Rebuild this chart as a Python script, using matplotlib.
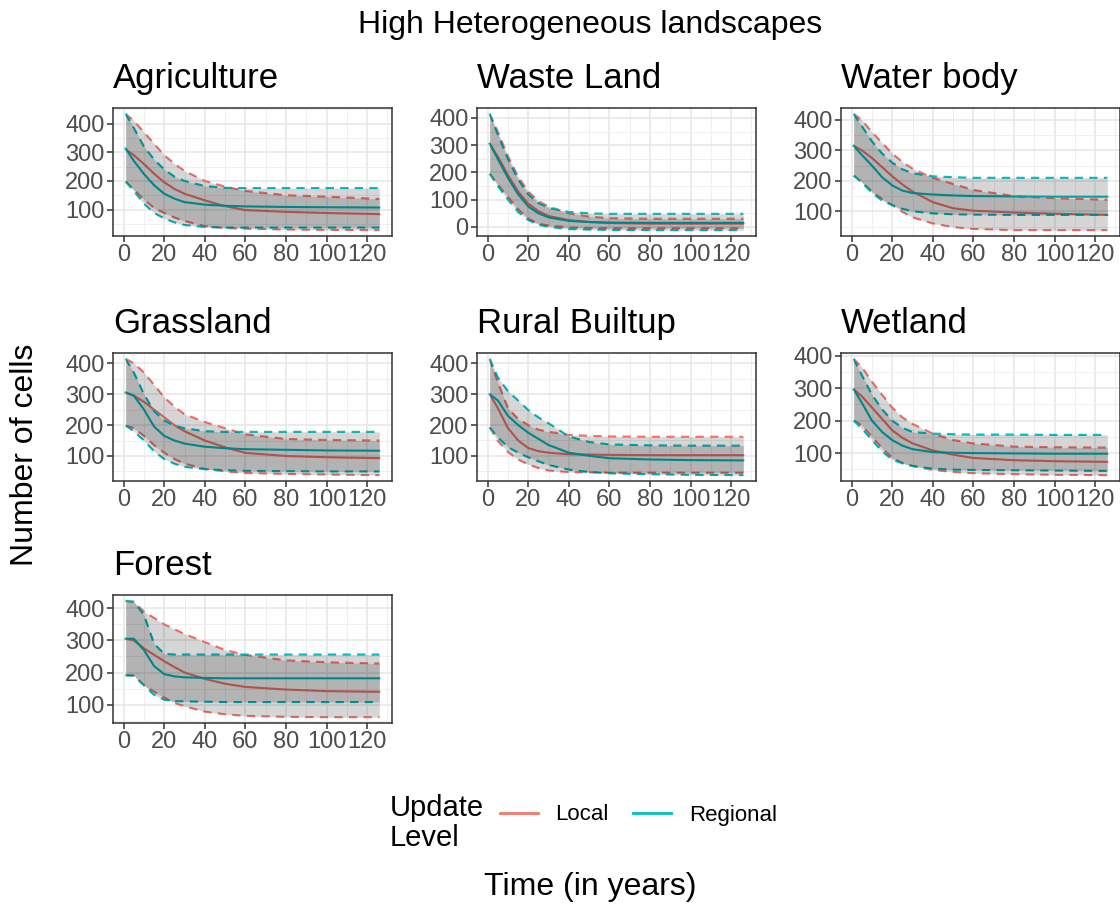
import matplotlib
matplotlib.use('Agg')
import matplotlib.pyplot as plt
from matplotlib.lines import Line2D
from matplotlib.ticker import MultipleLocator

plt.rcParams['font.family'] = ['Liberation Sans', 'DejaVu Sans']

T = [1, 5, 10, 15, 20, 25, 30, 40, 50, 60, 80, 100, 126]

panels = ['Agriculture', 'Waste Land', 'Water body',
          'Grassland', 'Rural Builtup', 'Wetland', 'Forest']

# Agriculture
agri_local_mean = [310, 290, 259, 225, 195, 172, 155, 132, 112, 98, 92, 88, 84]
agri_local_up = [434, 410, 370, 330, 290, 260, 235, 200, 180, 165, 150, 145, 137]
agri_local_lo = [197, 170, 135, 105, 88, 72, 60, 42, 35, 33, 30, 29, 28]
agri_reg_mean = [313, 270, 224, 185, 155, 138, 126, 117, 113, 111, 109, 108, 107]
agri_reg_up = [434, 385, 320, 275, 240, 215, 200, 182, 176, 175, 175, 175, 175]
agri_reg_lo = [197, 165, 120, 88, 69, 55, 46, 39, 37, 37, 37, 37, 37]

# Waste Land
waste_local_mean = [305, 258, 190, 130, 85, 58, 40, 25, 18, 14, 12, 12, 12]
waste_local_up = [415, 350, 260, 185, 130, 95, 75, 50, 38, 32, 30, 30, 30]
waste_local_lo = [195, 155, 110, 65, 30, 12, 5, -2, -4, -5, -5, -5, -5]
waste_reg_mean = [305, 250, 180, 120, 75, 50, 35, 22, 18, 16, 15, 15, 15]
waste_reg_up = [415, 340, 250, 175, 120, 88, 70, 55, 50, 48, 48, 48, 48]
waste_reg_lo = [195, 150, 100, 55, 25, 8, 0, -8, -10, -11, -12, -12, -12]

# Water body
water_local_mean = [315, 300, 275, 245, 215, 188, 165, 130, 110, 102, 96, 92, 88]
water_local_up = [420, 400, 360, 325, 290, 262, 240, 210, 190, 170, 150, 143, 138]
water_local_lo = [217, 195, 165, 140, 120, 98, 80, 60, 48, 42, 38, 38, 38]
water_reg_mean = [315, 285, 250, 212, 185, 168, 160, 155, 152, 150, 149, 148, 148]
water_reg_up = [420, 380, 330, 290, 260, 238, 225, 215, 212, 210, 210, 210, 210]
water_reg_lo = [217, 195, 160, 135, 120, 108, 100, 93, 90, 89, 88, 88, 88]

# Grassland
grass_local_mean = [305, 295, 275, 250, 225, 200, 180, 150, 128, 110, 100, 96, 93]
grass_local_up = [414, 400, 370, 330, 290, 260, 235, 210, 190, 170, 155, 152, 150]
grass_local_lo = [198, 190, 165, 135, 110, 90, 75, 58, 50, 45, 42, 40, 38]
grass_reg_mean = [305, 295, 250, 195, 165, 150, 140, 130, 125, 122, 120, 118, 117]
grass_reg_up = [414, 370, 300, 245, 215, 198, 190, 180, 178, 178, 178, 178, 178]
grass_reg_lo = [198, 180, 150, 115, 90, 75, 65, 57, 54, 52, 51, 50, 50]

# Rural Builtup
rural_local_mean = [300, 255, 190, 150, 125, 115, 110, 105, 104, 103, 102, 102, 102]
rural_local_up = [415, 340, 255, 220, 200, 185, 178, 168, 165, 163, 162, 162, 162]
rural_local_lo = [192, 148, 112, 88, 72, 60, 52, 47, 46, 45, 45, 45, 45]
rural_reg_mean = [300, 280, 230, 200, 175, 155, 135, 110, 100, 92, 88, 86, 85]
rural_reg_up = [415, 355, 310, 280, 249, 225, 206, 163, 145, 137, 134, 133, 133]
rural_reg_lo = [192, 160, 128, 110, 95, 82, 70, 55, 47, 43, 40, 38, 37]

# Wetland
wet_local_mean = [296, 275, 240, 205, 170, 147, 130, 108, 95, 85, 78, 75, 73]
wet_local_up = [390, 365, 320, 280, 240, 210, 190, 160, 140, 130, 120, 118, 117]
wet_local_lo = [200, 185, 150, 115, 85, 70, 60, 48, 42, 38, 35, 33, 32]
wet_reg_mean = [296, 255, 200, 165, 140, 123, 112, 103, 101, 100, 99, 98, 98]
wet_reg_up = [390, 340, 280, 235, 200, 178, 165, 160, 158, 157, 157, 156, 156]
wet_reg_lo = [200, 175, 140, 105, 80, 68, 60, 52, 49, 48, 47, 46, 45]

# Forest
forest_local_mean = [305, 300, 275, 255, 235, 217, 200, 180, 165, 155, 147, 142, 140]
forest_local_up = [423, 420, 390, 370, 350, 335, 320, 295, 270, 255, 238, 232, 228]
forest_local_lo = [191, 190, 160, 140, 122, 105, 95, 78, 70, 65, 62, 61, 61]
forest_reg_mean = [305, 305, 270, 220, 195, 188, 185, 183, 182, 182, 182, 182, 182]
forest_reg_up = [423, 420, 380, 290, 258, 256, 256, 256, 256, 256, 256, 256, 256]
forest_reg_lo = [191, 190, 160, 130, 115, 111, 110, 109, 108, 108, 108, 108, 108]

series = {
    'Agriculture': ((agri_local_mean, agri_local_lo, agri_local_up),
                    (agri_reg_mean, agri_reg_lo, agri_reg_up)),
    'Waste Land': ((waste_local_mean, waste_local_lo, waste_local_up),
                   (waste_reg_mean, waste_reg_lo, waste_reg_up)),
    'Water body': ((water_local_mean, water_local_lo, water_local_up),
                   (water_reg_mean, water_reg_lo, water_reg_up)),
    'Grassland': ((grass_local_mean, grass_local_lo, grass_local_up),
                  (grass_reg_mean, grass_reg_lo, grass_reg_up)),
    'Rural Builtup': ((rural_local_mean, rural_local_lo, rural_local_up),
                      (rural_reg_mean, rural_reg_lo, rural_reg_up)),
    'Wetland': ((wet_local_mean, wet_local_lo, wet_local_up),
                (wet_reg_mean, wet_reg_lo, wet_reg_up)),
    'Forest': ((forest_local_mean, forest_local_lo, forest_local_up),
               (forest_reg_mean, forest_reg_lo, forest_reg_up)),
}

levels = ['Local', 'Regional']
colors = ['#F8766D', '#00BFC4']

W, H = 1120, 907
fig = plt.figure(figsize=(W / 100, H / 100), dpi=100)

col_left = [113, 477, 841]
row_top = [108, 353, 595]
pw, ph = 279, 128

for i, name in enumerate(panels):
    r, c = divmod(i, 3)
    x0, y0 = col_left[c], row_top[r]
    ax = fig.add_axes([x0 / W, 1 - (y0 + ph) / H, pw / W, ph / H])
    ax.set_axisbelow(True)

    # lines under the ribbons; ribbons are translucent black so they darken
    for (mean, lo, up), col in zip(series[name], colors):
        ax.plot(T, mean, color=col, lw=1.5, zorder=2)
        ax.plot(T, up, color=col, lw=1.5, ls=(0, (4, 3)), zorder=2)
        ax.plot(T, lo, color=col, lw=1.5, ls=(0, (4, 3)), zorder=2)
    for (mean, lo, up), col in zip(series[name], colors):
        ax.fill_between(T, lo, up, color='black', alpha=0.16, lw=0, zorder=3)

    ax.margins(x=0.05, y=0.05)
    ax.xaxis.set_major_locator(MultipleLocator(20))
    ax.xaxis.set_minor_locator(MultipleLocator(10))
    ax.yaxis.set_major_locator(MultipleLocator(100))
    ax.yaxis.set_minor_locator(MultipleLocator(50))
    ax.grid(which='major', color='#e6e6e6', lw=1.1)
    ax.grid(which='minor', color='#efefef', lw=0.7)
    ax.tick_params(which='minor', length=0)
    ax.tick_params(which='major', length=4, width=1.1, color='#333333',
                   labelsize=17, labelcolor='#4d4d4d', pad=2)
    for sp in ax.spines.values():
        sp.set_color('#333333')
        sp.set_linewidth(1.1)
    fig.text(x0 / W, 1 - (y0 - 20) / H, name, fontsize=25, ha='left',
             va='baseline')

fig.text(590 / W, 1 - 33 / H, 'High Heterogeneous landscapes', fontsize=23,
         ha='center', va='baseline')
fig.text(25 / W, 1 - 455 / H, 'Number of cells', fontsize=23, rotation=90,
         ha='center', va='center')
fig.text(590 / W, 1 - 887 / H, 'Time (in years)', fontsize=23,
         ha='center', va='center')

# legend
fig.text(390 / W, 1 - 823 / H, 'Update\nLevel', fontsize=21, ha='left',
         va='center', linespacing=1.05)
handles = [Line2D([], [], color=col, lw=2) for col in colors]
fig.legend(handles, levels, loc='center left',
           bbox_to_anchor=(500 / W, 1 - 815 / H), ncol=2, frameon=False,
           fontsize=16, handlelength=1.7, columnspacing=1.1,
           handletextpad=0.8, borderpad=0, borderaxespad=0)

plt.savefig('out.png', dpi=100)
plt.close()
